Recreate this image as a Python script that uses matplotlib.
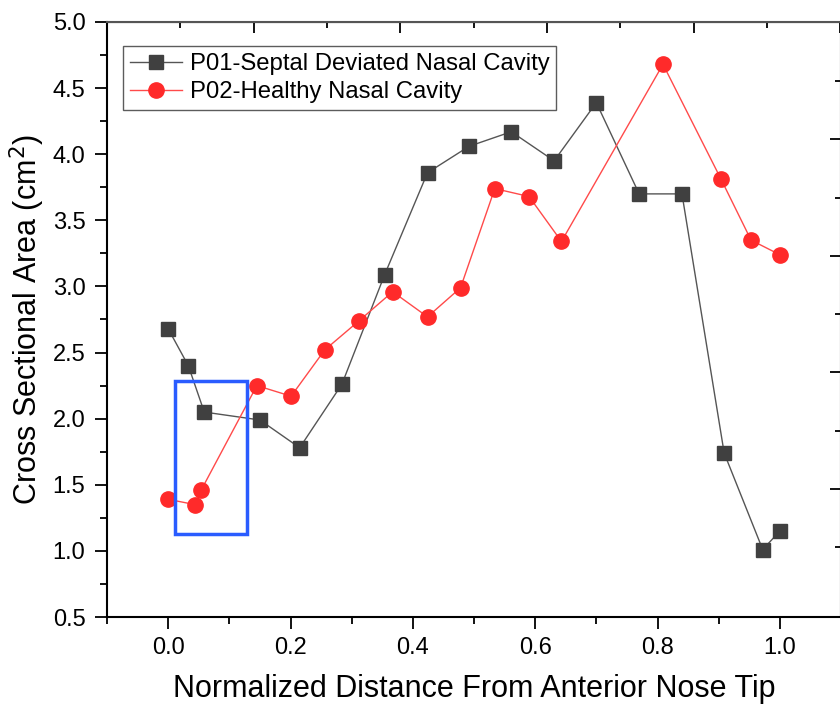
import matplotlib
matplotlib.use('Agg')
from matplotlib import pyplot as plt
from matplotlib.patches import Rectangle
from matplotlib.ticker import MultipleLocator, FixedLocator, NullFormatter

plt.rcParams['font.family'] = ['Liberation Sans', 'DejaVu Sans']

# P01 - septal deviated nasal cavity
p01_x = [0.0, 0.033, 0.059, 0.150, 0.215, 0.284, 0.354, 0.424, 0.492,
         0.561, 0.631, 0.700, 0.770, 0.840, 0.909, 0.972, 1.0]
p01_y = [2.68, 2.40, 2.05, 1.99, 1.78, 2.26, 3.09, 3.86, 4.06,
         4.17, 3.95, 4.39, 3.70, 3.70, 1.74, 1.01, 1.15]

# P02 - healthy nasal cavity
p02_x = [0.0, 0.044, 0.054, 0.145, 0.201, 0.256, 0.312, 0.367, 0.424,
         0.478, 0.534, 0.590, 0.643, 0.809, 0.904, 0.953, 1.0]
p02_y = [1.39, 1.35, 1.46, 2.25, 2.17, 2.52, 2.74, 2.96, 2.77,
         2.99, 3.74, 3.68, 3.34, 4.68, 3.81, 3.35, 3.24]

# highlighted region (x0, y0, width, height)
box = (0.011, 1.127, 0.118, 1.158)

fig = plt.figure(figsize=(8.4, 7.09), dpi=100)
ax = fig.add_axes([107/840, 92/709, 734/840, 595/709])

ax.plot(p01_x, p01_y, color='#555555', lw=1.0, marker='s', ms=10,
        mfc='#404040', mec='#404040', label='P01-Septal Deviated Nasal Cavity', zorder=3)
ax.plot(p02_x, p02_y, color='#ff4a4a', lw=1.0, marker='o', ms=11,
        mfc='#ff2a2a', mec='#ff2a2a', label='P02-Healthy Nasal Cavity', zorder=3)

ax.add_patch(Rectangle(box[:2], box[2], box[3], fill=False,
                       edgecolor='#2a5cff', lw=2.5, zorder=4))

ax.set_xlim(-0.1, 1.1)
ax.set_ylim(0.5, 5.0)
ax.xaxis.set_major_locator(MultipleLocator(0.2))
ax.xaxis.set_minor_locator(MultipleLocator(0.1))
ax.yaxis.set_major_locator(MultipleLocator(0.5))
ax.yaxis.set_minor_locator(MultipleLocator(0.25))
ax.tick_params(which='both', direction='out', labelsize=17, width=1.3)
ax.tick_params(which='major', length=8.5)
ax.tick_params(which='minor', length=5)
ax.tick_params(axis='y', which='major', pad=7)
ax.tick_params(axis='x', which='major', pad=6)

for s in ax.spines.values():
    s.set_linewidth(1.5)
ax.spines['top'].set_color('#555555')

ax.set_xlabel('Normalized Distance From Anterior Nose Tip', fontsize=22, labelpad=11)
ax.set_ylabel('Cross Sectional Area (cm$^2$)', fontsize=22, labelpad=4)

# top/right frame ticks (from another scale, no labels)
top = ax.secondary_xaxis('top', functions=(lambda x: (x + 0.1) * 613 / 147,
                                           lambda t: t * 147 / 613 - 0.1))
top.xaxis.set_major_locator(MultipleLocator(1))
top.xaxis.set_minor_locator(MultipleLocator(0.5))
top.xaxis.set_major_formatter(NullFormatter())
top.tick_params(which='both', direction='in', width=1.3)
top.tick_params(which='major', length=8)
top.tick_params(which='minor', length=4)

right = ax.secondary_yaxis('right', functions=(lambda y: (y - 1.4675) * 132.2 / 116.6 + 1,
                                               lambda t: (t - 1) * 116.6 / 132.2 + 1.4675))
right.yaxis.set_major_locator(FixedLocator([1, 2, 3, 4]))
right.yaxis.set_minor_locator(FixedLocator([0.5, 1.5, 2.5, 3.5, 4.5]))
right.yaxis.set_major_formatter(NullFormatter())
right.tick_params(which='both', direction='in', width=1.3)
right.tick_params(which='major', length=8)
right.tick_params(which='minor', length=4)

leg = ax.legend(loc='upper left', fontsize=17.2, frameon=True, fancybox=False,
                edgecolor='#333333', handlelength=2.2, borderpad=0.3,
                labelspacing=0.25, handletextpad=0.3, bbox_to_anchor=(0.005, 0.98))
leg.get_frame().set_linewidth(1.0)

fig.savefig('out.png', dpi=100)
